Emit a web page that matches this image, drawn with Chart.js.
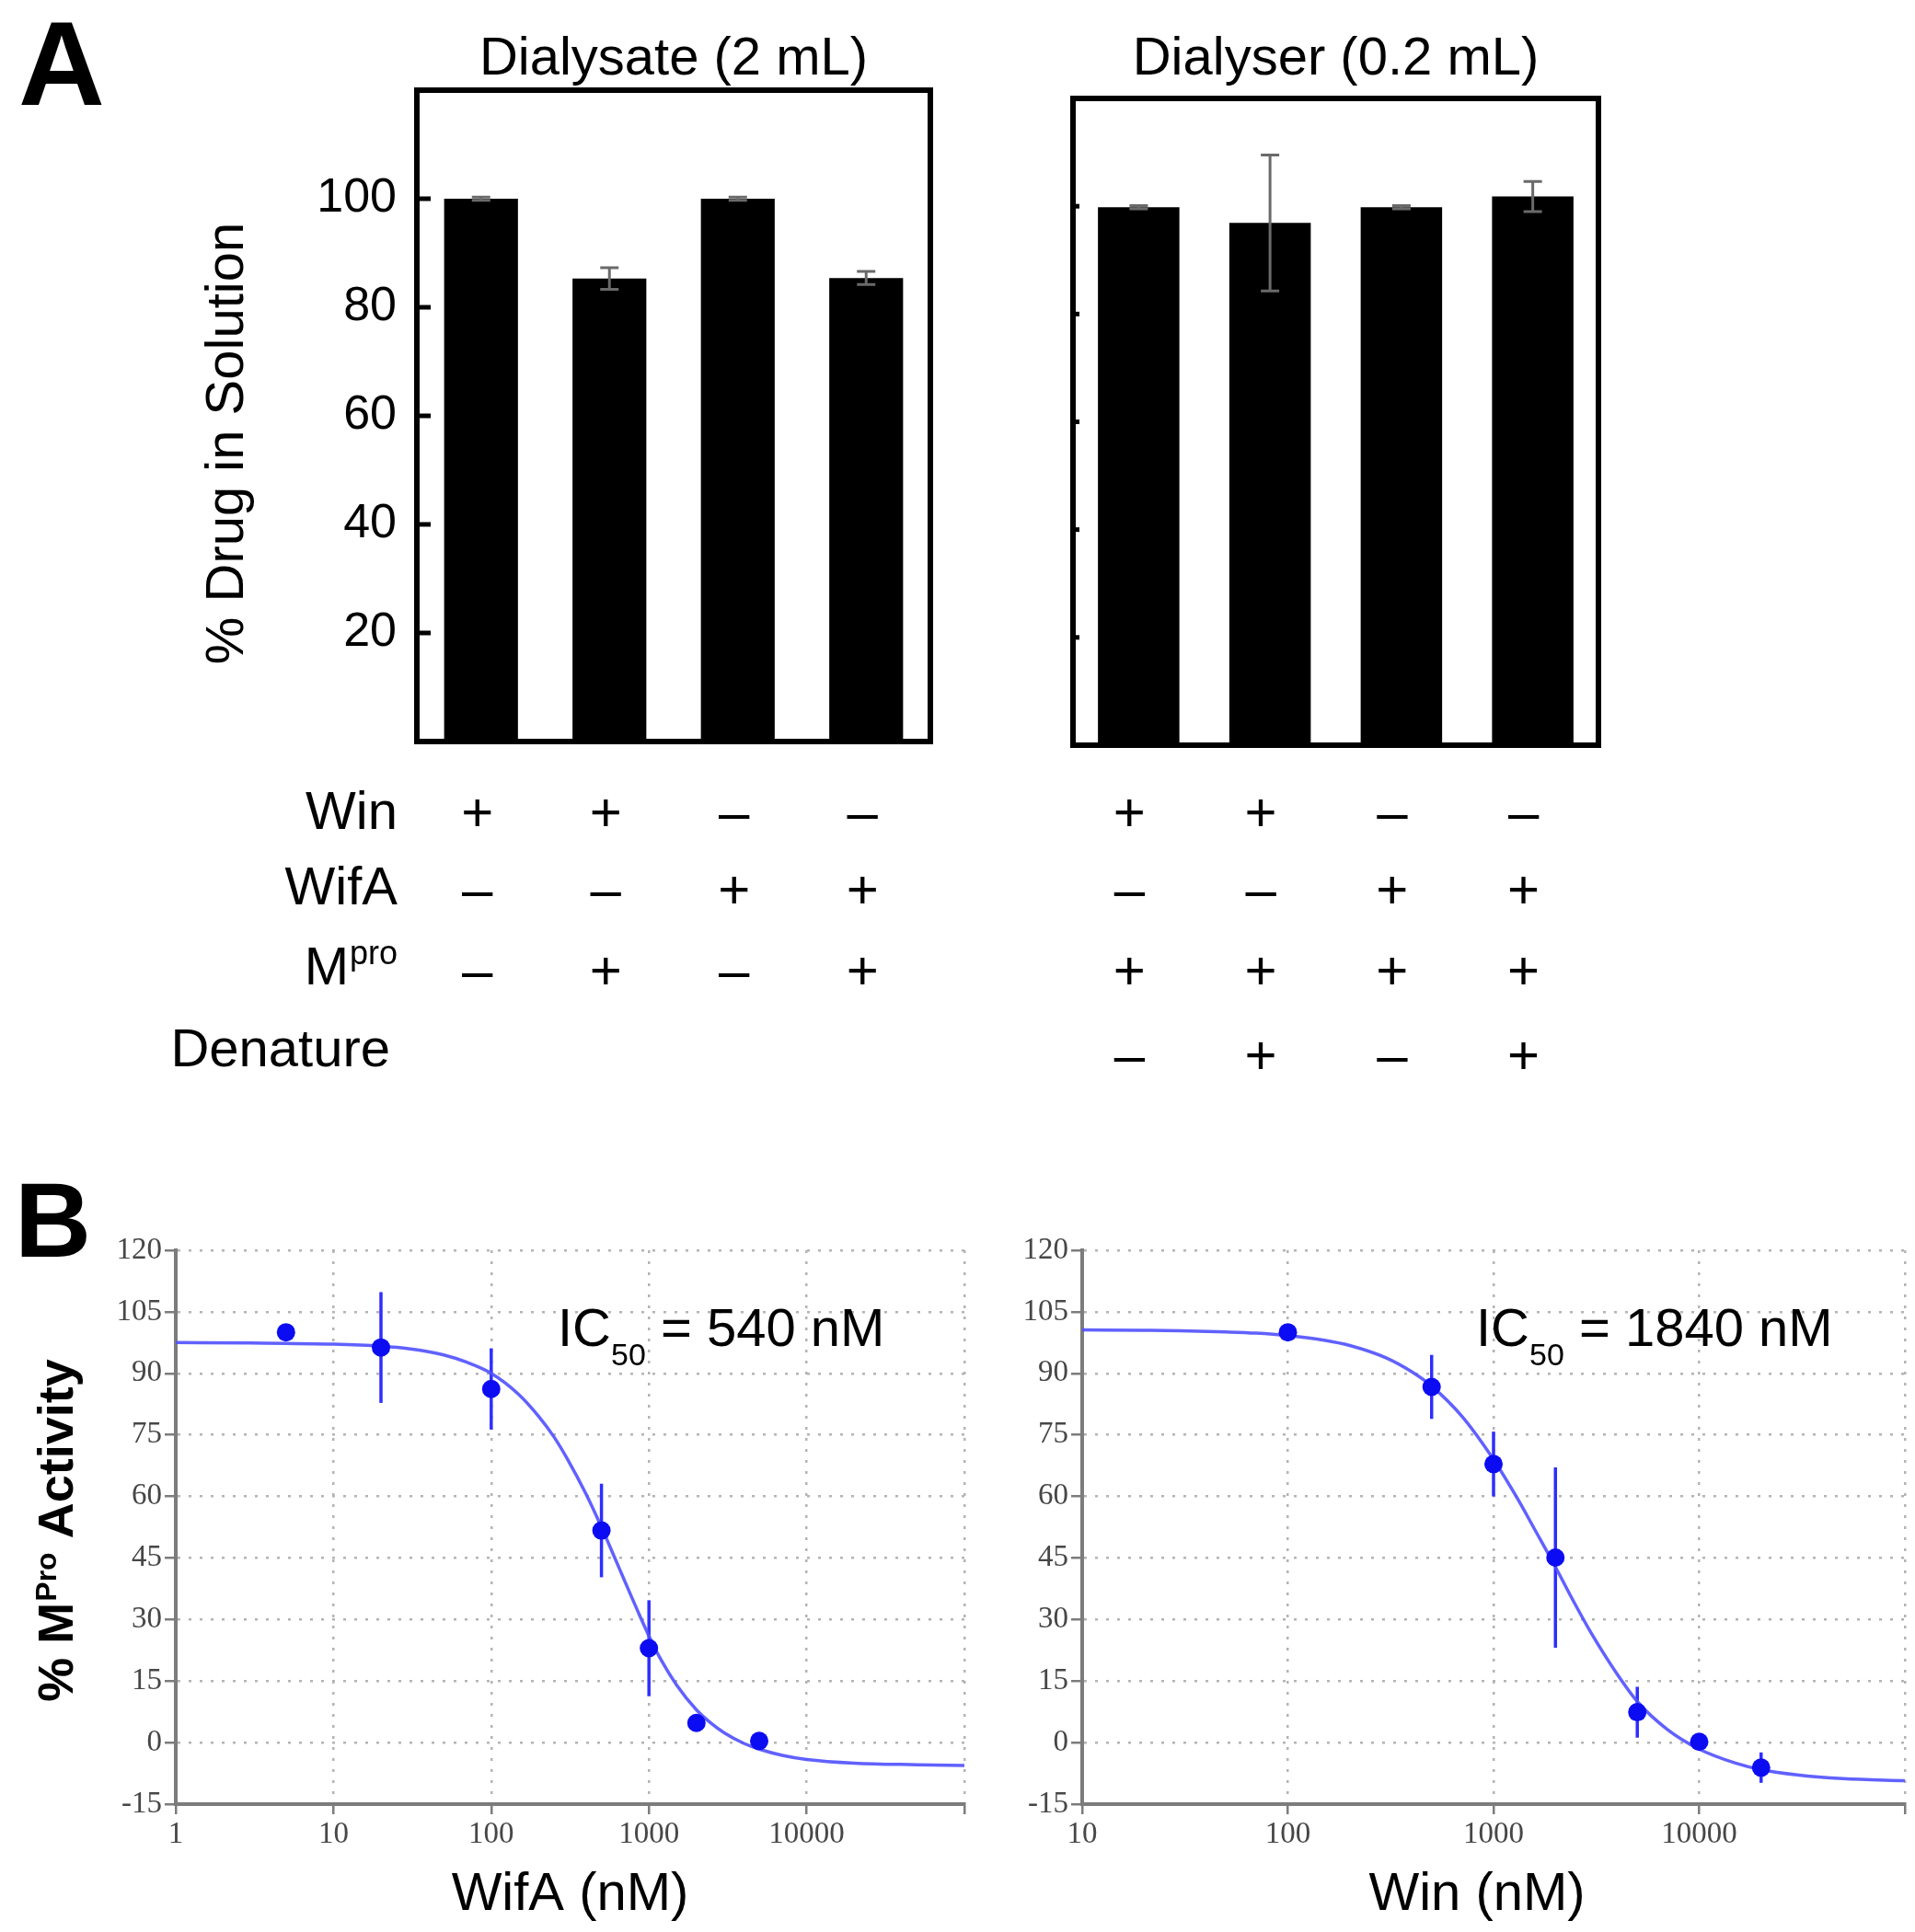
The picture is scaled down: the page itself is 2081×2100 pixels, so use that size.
<!DOCTYPE html>
<html>
<head>
<meta charset="utf-8">
<title>Dialysis and Mpro inhibition</title>
<script src="https://cdn.jsdelivr.net/npm/chart.js@4.4.1/dist/chart.umd.min.js"></script>
<style>
  html, body { margin: 0; padding: 0; background: #fff; }
  #page { position: relative; width: 2081px; height: 2100px; overflow: hidden; background: #fff; }
  canvas { position: absolute; }
</style>
</head>
<body>
<div id="page">
  <canvas id="dialysate" width="1100" height="1200" style="left:0;top:0"></canvas>
  <canvas id="dialyser" width="981" height="1200" style="left:1100px;top:0"></canvas>
  <canvas id="wifa" width="1100" height="870" style="left:0;top:1230px"></canvas>
  <canvas id="win" width="981" height="870" style="left:1100px;top:1230px"></canvas>
</div>
<script>
// ============================================
// Data - panel A (% drug left in solution)
// ============================================
const conditionLabels = ["1", "2", "3", "4"];
const dialysateMeans = [100, 85.3, 100, 85.4];
const dialysateErrors = [0.3, 2.0, 0.3, 1.2];
const dialyserMeans = [99.8, 96.9, 99.8, 101.8];
const dialyserErrors = [0.3, 12.6, 0.3, 2.8];
const percentTicks = [20, 40, 60, 80, 100];

const conditionRows = ["Win", "WifA", "Mpro", "Denature"];
const dialysateSigns = [
  ["+", "+", "–", "–"],
  ["–", "–", "+", "+"],
  ["–", "+", "–", "+"],
];
const dialyserSigns = [
  ["+", "+", "–", "–"],
  ["–", "–", "+", "+"],
  ["+", "+", "+", "+"],
  ["–", "+", "–", "+"],
];

// ============================================
// Data - panel B (dose response)
// ============================================
const wifaDose = [5, 20, 100, 500, 1000, 2000, 5000];
const wifaActivity = [100, 96.3, 86.2, 51.7, 23.0, 4.8, 0.4];
const wifaError = [0, 13.5, 9.9, 11.4, 11.7, 0, 0];
// fitted curve
const wifaFitDose = [1, 3, 10, 20, 30, 50, 70, 100, 150, 200, 250, 300, 400, 500, 600, 700, 850, 1000, 1200, 1500, 2000, 2500, 3000, 4000, 5000, 7000, 10000, 20000, 50000, 100000];
const wifaFitActivity = [97.5, 97.4, 97.1, 96.6, 96.0, 94.5, 92.7, 90.0, 84.8, 79.5, 74.5, 69.5, 60.5, 52.5, 45.5, 39.5, 32.0, 26.0, 20.0, 14.0, 8.0, 4.6, 2.4, -0.2, -1.6, -3.1, -4.1, -5.0, -5.4, -5.6];

const winDose = [100, 500, 1000, 2000, 5000, 10000, 20000];
const winActivity = [100, 86.7, 67.9, 45.1, 7.4, 0.2, -6.1];
const winError = [0, 7.8, 7.9, 22.0, 6.2, 0, 3.7];
const winFitDose = [10, 20, 30, 50, 70, 100, 150, 200, 300, 400, 500, 700, 1000, 1300, 1600, 2000, 2500, 3000, 4000, 5000, 7000, 10000, 15000, 20000, 30000, 50000, 100000];
const winFitActivity = [100.6, 100.5, 100.4, 100.1, 99.8, 99.2, 98.1, 96.8, 93.8, 90.4, 86.9, 79.6, 69.0, 59.7, 51.6, 42.8, 33.6, 26.5, 16.6, 10.0, 3.2, -1.6, -5.0, -6.6, -7.9, -8.8, -9.3];

const activityTicks = [-15, 0, 15, 30, 45, 60, 75, 90, 105, 120];
const wifaDoseTicks = [1, 10, 100, 1000, 10000, 100000];
const winDoseTicks = [10, 100, 1000, 10000, 100000];

// ============================================
// Styling
// ============================================
const SANS = '"Liberation Sans", Arial, Helvetica, sans-serif';
const SERIF = '"Liberation Serif", "Times New Roman", serif';
const POINT_BLUE = "#0c0cf2";
const LINE_BLUE = "rgba(80, 80, 255, 0.9)";
const GRID = "#b4b4b4";
const AXIS = "#7c7c7c";

const LABEL_RIGHT = 432;
const LABEL_BASELINES = [901, 983, 1070, 1159];
const SIGN_BASELINES = [903, 987, 1075, 1167];

Chart.defaults.font.family = SANS;
Chart.defaults.color = "#000";

// ============================================
// Panel A bar charts
// ============================================
function makeBarPanel(canvasId, o) {
  const extras = {
    id: "panelExtras",
    afterDraw(chart) {
      const { ctx, chartArea: a, scales: { x, y } } = chart;
      ctx.save();

      // error bars
      ctx.strokeStyle = "#6a6a6a";
      ctx.lineWidth = 3;
      o.means.forEach((m, i) => {
        const px = x.getPixelForValue(i);
        const top = y.getPixelForValue(m + o.errors[i]);
        const bot = y.getPixelForValue(m - o.errors[i]);
        ctx.beginPath();
        ctx.moveTo(px, top); ctx.lineTo(px, bot);
        ctx.moveTo(px - 10, top); ctx.lineTo(px + 10, top);
        ctx.moveTo(px - 10, bot); ctx.lineTo(px + 10, bot);
        ctx.stroke();
      });

      // frame with inward ticks
      ctx.strokeStyle = "#000";
      ctx.lineWidth = 6;
      ctx.strokeRect(a.left, a.top, a.right - a.left, a.bottom - a.top);
      ctx.lineWidth = 5;
      percentTicks.forEach((v) => {
        const py = y.getPixelForValue(v);
        ctx.beginPath();
        ctx.moveTo(a.left, py);
        ctx.lineTo(a.left + o.tickLen, py);
        ctx.stroke();
      });

      // panel title
      ctx.fillStyle = "#000";
      ctx.font = `58px ${SANS}`;
      ctx.textAlign = "center";
      ctx.textBaseline = "alphabetic";
      ctx.fillText(o.title, (a.left + a.right) / 2, 81);

      // +/- condition table
      ctx.font = `60px ${SANS}`;
      o.signs.forEach((row, r) =>
        row.forEach((s, i) =>
          ctx.fillText(s, x.getPixelForValue(i) + o.signShift, SIGN_BASELINES[r])
        )
      );

      if (o.extra) o.extra(ctx, chart);
      ctx.restore();
    },
  };

  return new Chart(document.getElementById(canvasId), {
    type: "bar",
    data: {
      labels: conditionLabels,
      datasets: [
        {
          data: o.means,
          backgroundColor: "#000",
          borderWidth: 0,
          barPercentage: o.barPct,
          categoryPercentage: 1.0,
        },
      ],
    },
    options: {
      responsive: false,
      animation: false,
      layout: { padding: o.padding },
      plugins: { legend: { display: false }, tooltip: { enabled: false } },
      scales: {
        x: { display: false },
        y: {
          min: 0,
          max: 120,
          afterBuildTicks: (s) => { s.ticks = percentTicks.map((v) => ({ value: v })); },
          afterFit: (s) => { s.width = o.axisWidth; },
          grid: { display: false, drawTicks: false },
          border: { display: false },
          ticks: {
            display: o.showTicks,
            padding: 22,
            color: "#000",
            font: { size: 52 },
          },
        },
      },
    },
    plugins: [extras],
  });
}

function drawRowLabels(ctx) {
  ctx.fillStyle = "#000";
  ctx.textAlign = "right";
  ctx.textBaseline = "alphabetic";
  conditionRows.forEach((label, r) => {
    const base = LABEL_BASELINES[r];
    if (label === "Mpro") {
      ctx.font = `36px ${SANS}`;
      const supW = ctx.measureText("pro").width;
      ctx.fillText("pro", LABEL_RIGHT, base - 22);
      ctx.font = `58px ${SANS}`;
      ctx.fillText("M", LABEL_RIGHT - supW - 1, base);
    } else {
      ctx.font = `58px ${SANS}`;
      ctx.fillText(label, r === 3 ? LABEL_RIGHT - 8 : LABEL_RIGHT, base);
    }
  });
}

makeBarPanel("dialysate", {
  means: dialysateMeans,
  errors: dialysateErrors,
  signs: dialysateSigns,
  title: "Dialysate (2 mL)",
  barPct: 0.575,
  tickLen: 15,
  signShift: -4,
  showTicks: true,
  axisWidth: 453,
  padding: { left: 0, top: 98, right: 89, bottom: 394 },
  extra(ctx) {
    ctx.fillStyle = "#000";
    ctx.font = `bold 130px ${SANS}`;
    ctx.textAlign = "left";
    ctx.fillText("A", 20, 114);

    ctx.save();
    ctx.translate(248, 482);
    ctx.rotate(-Math.PI / 2);
    ctx.font = `58px ${SANS}`;
    ctx.textAlign = "center";
    ctx.textBaseline = "middle";
    ctx.fillText("% Drug in Solution", 0, 0);
    ctx.restore();

    drawRowLabels(ctx);
  },
});

makeBarPanel("dialyser", {
  means: dialyserMeans,
  errors: dialyserErrors,
  signs: dialyserSigns,
  title: "Dialyser (0.2 mL)",
  barPct: 0.62,
  tickLen: 7,
  signShift: -10,
  showTicks: false,
  axisWidth: 66,
  padding: { left: 0, top: 107, right: 344, bottom: 390 },
});

// ============================================
// Panel B dose-response charts
// ============================================
function makeDosePanel(canvasId, o) {
  const extras = {
    id: "doseExtras",
    beforeDatasetsDraw(chart) {
      const { ctx, scales: { x, y } } = chart;
      ctx.save();
      ctx.strokeStyle = "#2e2eff";
      ctx.lineWidth = 3.5;
      o.dose.forEach((d, i) => {
        if (!o.error[i]) return;
        const px = x.getPixelForValue(d);
        ctx.beginPath();
        ctx.moveTo(px, y.getPixelForValue(o.activity[i] + o.error[i]));
        ctx.lineTo(px, y.getPixelForValue(o.activity[i] - o.error[i]));
        ctx.stroke();
      });
      ctx.restore();
    },
    afterDraw(chart) {
      const { ctx, chartArea: a } = chart;
      ctx.save();
      ctx.fillStyle = "#000";
      ctx.textBaseline = "alphabetic";
      ctx.textAlign = "left";
      // IC50 annotation
      let x0 = o.icX;
      ctx.font = `58px ${SANS}`;
      ctx.fillText("IC", x0, 233);
      x0 += ctx.measureText("IC").width;
      ctx.font = `34px ${SANS}`;
      ctx.fillText("50", x0, 254);
      x0 += ctx.measureText("50").width;
      ctx.font = `58px ${SANS}`;
      ctx.fillText(" = " + o.ic50 + " nM", x0, 233);

      // x axis title
      ctx.textAlign = "center";
      ctx.fillText(o.xTitle, (a.left + a.right) / 2 + o.titleShift, 846);

      if (o.extra) o.extra(ctx, chart);
      ctx.restore();
    },
  };

  return new Chart(document.getElementById(canvasId), {
    type: "scatter",
    data: {
      datasets: [
        {
          data: o.dose.map((d, i) => ({ x: d, y: o.activity[i] })),
          pointRadius: 10,
          pointBackgroundColor: POINT_BLUE,
          pointBorderWidth: 0,
          order: 0,
        },
        {
          data: o.fitDose.map((d, i) => ({ x: d, y: o.fitActivity[i] })),
          showLine: true,
          pointRadius: 0,
          borderColor: LINE_BLUE,
          borderWidth: 3.5,
          cubicInterpolationMode: "monotone",
          order: 1,
        },
      ],
    },
    options: {
      responsive: false,
      animation: false,
      layout: { padding: { left: 0, top: 129, right: o.padRight, bottom: 0 } },
      plugins: { legend: { display: false }, tooltip: { enabled: false } },
      scales: {
        x: {
          type: "logarithmic",
          min: o.min,
          max: 100000,
          afterBuildTicks: (s) => { s.ticks = o.ticks.map((v) => ({ value: v })); },
          afterFit: (s) => { s.height = 139; },
          grid: { color: GRID, lineWidth: 2.5, tickLength: 11, tickColor: AXIS, tickWidth: 2.5 },
          border: { color: AXIS, width: 4, dash: [3, 9] },
          ticks: {
            autoSkip: false,
            maxRotation: 0,
            padding: 3,
            color: "#474747",
            font: { family: SERIF, size: 33 },
            callback: (v) => (v >= 100000 ? "" : String(v)),
          },
        },
        y: {
          min: -15,
          max: 120,
          afterBuildTicks: (s) => { s.ticks = activityTicks.map((v) => ({ value: v })); },
          afterFit: (s) => { s.width = o.axisLeft; },
          grid: { color: GRID, lineWidth: 2.5, tickLength: 12, tickColor: AXIS, tickWidth: 2.5 },
          border: { color: AXIS, width: 4, dash: [3, 9] },
          ticks: {
            padding: 3,
            color: "#474747",
            font: { family: SERIF, size: 33 },
            callback: (v) => String(v),
          },
        },
      },
    },
    plugins: [extras],
  });
}

makeDosePanel("wifa", {
  dose: wifaDose,
  activity: wifaActivity,
  error: wifaError,
  fitDose: wifaFitDose,
  fitActivity: wifaFitActivity,
  ticks: wifaDoseTicks,
  min: 1,
  xTitle: "WifA (nM)",
  titleShift: 0,
  ic50: 540,
  icX: 606,
  axisLeft: 191,
  padRight: 52,
  extra(ctx) {
    ctx.textAlign = "left";
    ctx.font = `bold 115px ${SANS}`;
    ctx.fillText("B", 16, 136);

    // rotated y title with superscript
    ctx.save();
    ctx.translate(60, 434);
    ctx.rotate(-Math.PI / 2);
    const big = `bold 54px ${SANS}`;
    const sup = `bold 32px ${SANS}`;
    ctx.font = big;
    const w1 = ctx.measureText("% M").width;
    const w3 = ctx.measureText(" Activity").width;
    ctx.font = sup;
    const w2 = ctx.measureText("Pro").width;
    let sx = -(w1 + w2 + w3) / 2;
    const base = 19;
    ctx.font = big;
    ctx.fillText("% M", sx, base);
    sx += w1 + 1;
    ctx.font = sup;
    ctx.fillText("Pro", sx, base - 18);
    sx += w2;
    ctx.font = big;
    ctx.fillText(" Activity", sx, base);
    ctx.restore();
  },
});

makeDosePanel("win", {
  dose: winDose,
  activity: winActivity,
  error: winError,
  fitDose: winFitDose,
  fitActivity: winFitActivity,
  ticks: winDoseTicks,
  min: 10,
  xTitle: "Win (nM)",
  titleShift: -18,
  ic50: 1840,
  icX: 504,
  axisLeft: 76,
  padRight: 11,
});
</script>
</body>
</html>
